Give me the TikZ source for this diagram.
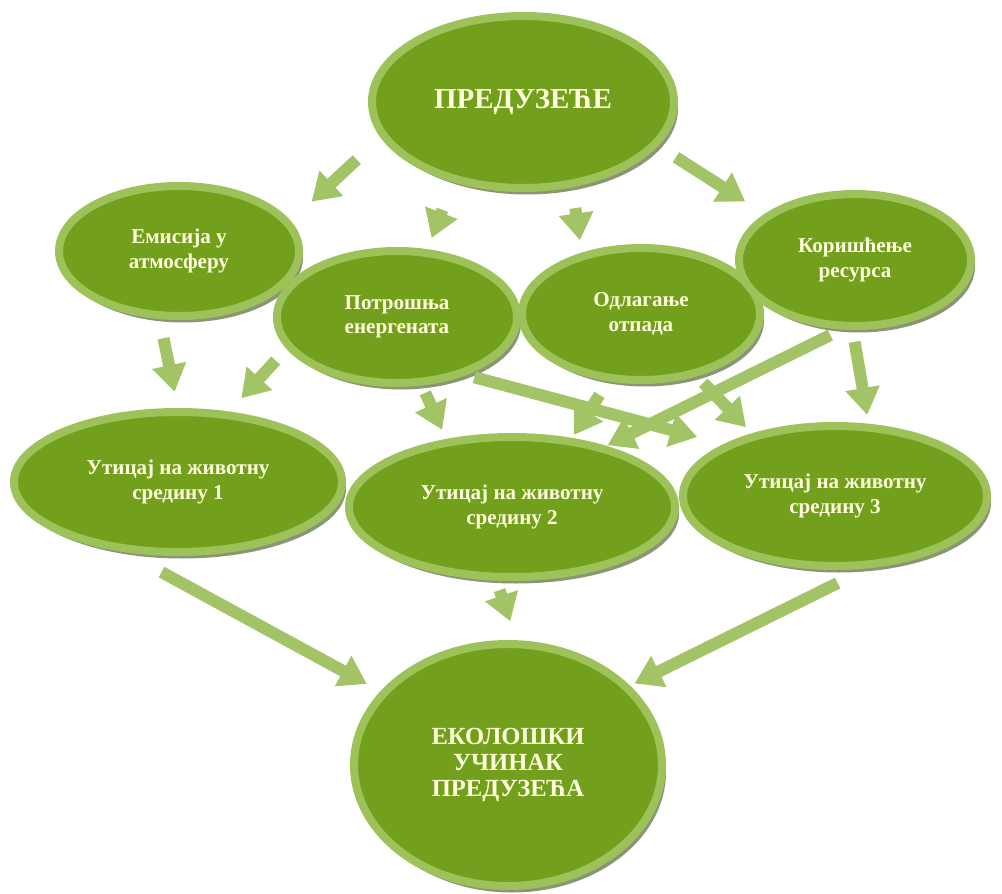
\documentclass[tikz,border=0pt]{standalone}
\usepackage{fontspec}
\setmainfont{Liberation Serif}
\usetikzlibrary{arrows.meta,shapes.geometric,shadows}
\definecolor{leaf}{HTML}{72A01C}
\definecolor{rim}{HTML}{9DC25A}
\definecolor{stem}{HTML}{A2C366}
\definecolor{bark}{HTML}{6B7A52}
\definecolor{cream}{HTML}{FFFFDC}

\begin{document}
\begin{tikzpicture}[
    b/.style={ellipse,draw=rim,line width=1.6mm,fill=leaf,inner sep=0pt,
      minimum width=48mm,minimum height=26.4mm,align=center,text=cream,
      font=\bfseries\fontsize{12}{14}\selectfont,
      drop shadow={shadow xshift=.8mm,shadow yshift=-1.3mm,fill=bark,opacity=.8}},
    u/.style={b,minimum height=28mm},
    k/.style={b,font=\bfseries\fontsize{16.5}{19}\selectfont},
    a/.style={-{Triangle[width=6.6mm,length=5.4mm]},line width=2.4mm,stem}]
  \useasboundingbox (0,0) rectangle (20.04,17.86);
  \node[k,minimum width=60.4mm,minimum height=34.4mm] (top) at (10.46,15.82) {ПРЕДУЗЕЋЕ};
  \node[b,minimum height=26mm] (emi) at (3.58,12.84) {Емисија у\\атмосферу};
  \node[b] (pot) at (7.94,11.52) {Потрошња\\енергената};
  \node[b,minimum width=47.6mm] (odl) at (12.82,11.58) {Одлагање\\отпада};
  \node[b,minimum width=46.4mm] (kor) at (17.10,12.66) {Коришћење\\ресурса};
  \node[u,minimum width=65.6mm] (ut1) at (3.56,8.22) {Утицај на животну\\средину 1};
  \node[u,minimum width=65.2mm] (ut2) at (10.24,7.72) {Утицај на животну\\средину 2};
  \node[u,minimum width=60.8mm] (ut3) at (16.70,7.94) {Утицај на животну\\средину 3};
  \node[k,minimum width=61.6mm,minimum height=48.4mm,
    font=\bfseries\fontsize{14}{15}\selectfont] (eko) at (10.16,2.56) {ЕКОЛОШКИ\\УЧИНАК\\ПРЕДУЗЕЋА};
  % from the company to the four aspects
  \draw[a,shorten <=6.5mm,shorten >=5.7mm] (top.194) -- (emi.15);
  \draw[a,shorten <=5.9mm,shorten >=2.4mm] (top.229) -- (pot.66);
  \draw[a,shorten <=4.2mm,shorten >=2.5mm] (top.300) -- (odl.134);
  \draw[a,shorten <=4.2mm,shorten >=4.6mm] (top.342) -- (kor.153);
  % aspects to impacts
  \draw[a,shorten <=3.9mm,shorten >=3.3mm] (emi.254) -- (ut1.90);
  \draw[a,shorten <=3.2mm,shorten >=3.6mm] (pot.196) -- (ut1.54);
  \draw[a,shorten <=1.6mm,shorten >=2mm] (pot.290) -- (ut2.134);
  \draw[a,shorten <=1.7mm,shorten >=5.5mm] (pot.320) -- (ut3.155);
  \draw[a,shorten <=3.2mm,shorten >=.7mm] (odl.244) -- (ut2.49);
  \draw[a,shorten <=1.8mm,shorten >=1.7mm] (odl.312) -- (ut3.143);
  \draw[a,shorten <=2.5mm,shorten >=.3mm] (kor.259) -- (ut2.33);
  \draw[a,shorten <=2.4mm,shorten >=1.8mm] (kor.268) -- (ut3.65);
  % impacts to the performance
  \draw[a,shorten <=8.3mm,shorten >=3.1mm] (ut1.233) -- (eko.150);
  \draw[a,shorten <=2mm,shorten >=4mm] (ut2.258) -- (eko.86);
  \draw[a,shorten <=6.6mm,shorten >=1mm] (ut3.294) -- (eko.33);
\end{tikzpicture}
\end{document}
